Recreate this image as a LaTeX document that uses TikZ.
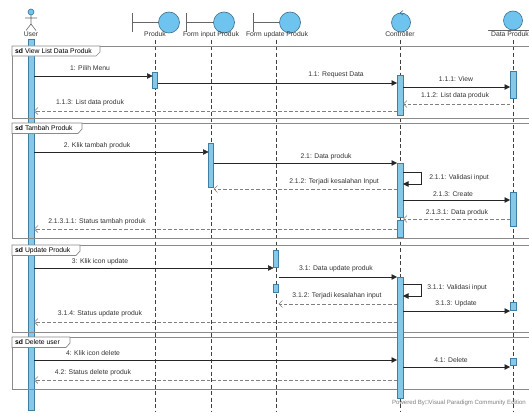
\documentclass[tikz,border=0pt]{standalone}
\usepackage{fontspec}
\setmainfont{Liberation Sans}
\usetikzlibrary{arrows.meta}
\definecolor{actfill}{HTML}{86C8E8}
\definecolor{actdraw}{HTML}{3F7FA6}
\definecolor{circfill}{HTML}{6EC4EE}
\definecolor{circdraw}{HTML}{3E6F8E}
\definecolor{framec}{HTML}{8A8A8A}
\definecolor{txt}{HTML}{333333}
\newcommand{\lbf}{\fontsize{6.8}{8}\selectfont}
\newcommand{\ftf}{\fontsize{6.1}{7}\selectfont}
\begin{document}
\begin{tikzpicture}[x=1pt,y=-1pt,
  lbl/.style={font=\lbf, text=txt, inner sep=0pt},
  tabl/.style={font=\lbf, text=black, inner sep=0pt, anchor=west},
  msg/.style={draw=black!85, line width=0.55pt, -{Triangle[length=5.5pt,width=5.5pt]}},
  ret/.style={draw=black!50, line width=0.55pt, dash pattern=on 3.5pt off 2pt, -{Straight Barb[length=3.5pt,width=7pt]}},
  lifeline/.style={draw=black!75, line width=0.5pt, dash pattern=on 4pt off 2.5pt},
  act/.style={draw=actdraw, fill=actfill, line width=0.5pt},
  frm/.style={draw=framec, line width=0.7pt},
  tabshape/.style={draw=framec, fill=white, line width=0.7pt},
  icon/.style={draw=circdraw, fill=circfill, line width=0.6pt},
  iconline/.style={draw=black!60, line width=0.6pt}
]
\useasboundingbox (0,0) rectangle (529,412);
\clip (0,0) rectangle (529,412);
\fill[white] (0,0) rectangle (529,412);

% ---------- header icons ----------
% actor
\draw[icon] (31,12) circle (3);
\draw[iconline] (31,15) -- (31,24) (25,18) -- (37,18) (31,24) -- (26,30.5) (31,24) -- (36,30.5);
\node[lbl] (hUser) at (31,34.5) {User};
% boundaries
\draw[iconline] (132,13) -- (132,32) (132,22.5) -- (158.5,22.5);
\draw[icon] (169,22.5) circle (10.5);
\node[lbl] (hProduk) at (155,34.5) {Produk};
\draw[iconline] (186,13) -- (186,32) (186,22.5) -- (213.5,22.5);
\draw[icon] (224,22.5) circle (10.5);
\node[lbl] (hFin) at (211,34.5) {Form input Produk};
\draw[iconline] (253,13) -- (253,32) (253,22.5) -- (279.5,22.5);
\draw[icon] (290,22.5) circle (10.5);
\node[lbl] (hFup) at (277,34.5) {Form update Produk};
% control
\draw[icon] (401,22.5) circle (9.5);
\draw[iconline, draw=circdraw] (403,10.5) -- (400,13) -- (403,15);
\node[lbl] (hCtrl) at (400,34.5) {Controller};
% entity
\draw[icon] (513,20.5) circle (9.5);
\draw[iconline] (488,30) -- (545,30);
\node[lbl] (hData) at (510,34.5) {Data Produk};

% ---------- lifelines ----------
\foreach \x in {155,211,276,400,513} \draw[lifeline] (\x,40) -- (\x,412);

% ---------- user activation (behind frames) ----------
\path[act] (28,39) rectangle (34,410);

% ---------- frames ----------
\draw[frm] (12,46) rectangle (545,118);
\draw[tabshape] (12,46) -- (100,46) -- (100,52) -- (96,56) -- (12,56) -- cycle;
\node[tabl] (f1) at (15,51.2) {\textbf{sd} View List Data Produk};

\draw[frm] (12,123) rectangle (545,238);
\draw[tabshape] (12,123) -- (82,123) -- (82,129) -- (78,133.5) -- (12,133.5) -- cycle;
\node[tabl] (f2) at (15,128.5) {\textbf{sd} Tambah Produk};

\draw[frm] (12,245) rectangle (545,332);
\draw[tabshape] (12,245) -- (80,245) -- (80,251) -- (76,255.5) -- (12,255.5) -- cycle;
\node[tabl] (f3) at (15,250.5) {\textbf{sd} Update Produk};

\draw[frm] (12,337) rectangle (545,389);
\draw[tabshape] (12,337) -- (70,337) -- (70,343) -- (66,347.5) -- (12,347.5) -- cycle;
\node[tabl] (f4) at (15,342.5) {\textbf{sd} Delete user};

% ---------- activation bars ----------
\path[act] (152.5,72) rectangle (157.5,88);
\path[act] (397,75) rectangle (403,115);
\path[act] (510,71) rectangle (516,98);
\path[act] (208.5,143) rectangle (213.5,187);
\path[act] (397,163) rectangle (403,217);
\path[act] (397,220) rectangle (403,237);
\path[act] (510,192) rectangle (516,226);
\path[act] (273.5,250) rectangle (278.5,267);
\path[act] (273.5,284) rectangle (278.5,292);
\path[act] (397,277) rectangle (403,398);
\path[act] (510,302) rectangle (516,310);
\path[act] (510,358) rectangle (516,365);

% ---------- messages ----------
% frame 1
\coordinate (a1) at (34,76);     \coordinate (b1) at (152.5,76);
\draw[msg] (a1) -- (b1);  \node[lbl] (l1) at (90,68) {1: Pilih Menu};
\coordinate (a2) at (157.5,83);  \coordinate (b2) at (397,83);
\draw[msg] (a2) -- (b2);  \node[lbl] (l2) at (336,75) {1.1: Request Data};
\coordinate (a3) at (403,87);    \coordinate (b3) at (510,87);
\draw[msg] (a3) -- (b3);  \node[lbl] (l3) at (456,79) {1.1.1: View};
\coordinate (a4) at (510,104);   \coordinate (b4) at (403,104);
\draw[ret] (a4) -- (b4);  \node[lbl] (l4) at (455,96) {1.1.2: List data produk};
\coordinate (a5) at (397,111);   \coordinate (b5) at (34,111);
\draw[ret] (a5) -- (b5);  \node[lbl] (l5) at (90,103) {1.1.3: List data produk};

% frame 2
\coordinate (a6) at (34,152);    \coordinate (b6) at (208.5,152);
\draw[msg] (a6) -- (b6);  \node[lbl] (l6) at (97,146) {2. Klik tambah produk};
\coordinate (a7) at (213.5,163); \coordinate (b7) at (397,163);
\draw[msg] (a7) -- (b7);  \node[lbl] (l7) at (326,157) {2.1: Data produk};
\coordinate (a8) at (403,172);   \coordinate (b8) at (403,184);
\draw[msg] (a8) -- (421,172) -- (421,184) -- (b8);
\node[lbl] (l8) at (459,178) {2.1.1: Validasi input};
\coordinate (a9) at (397,189);   \coordinate (b9) at (213.5,189);
\draw[ret] (a9) -- (b9);  \node[lbl] (l9) at (334,182) {2.1.2: Terjadi kesalahan Input};
\coordinate (a10) at (403,200);  \coordinate (b10) at (510,200);
\draw[msg] (a10) -- (b10); \node[lbl] (l10) at (453,194) {2.1.3: Create};
\coordinate (a11) at (510,219);  \coordinate (b11) at (403,219);
\draw[ret] (a11) -- (b11); \node[lbl] (l11) at (457,213) {2.1.3.1: Data produk};
\coordinate (a12) at (397,229);  \coordinate (b12) at (34,229);
\draw[ret] (a12) -- (b12); \node[lbl] (l12) at (97,222) {2.1.3.1.1: Status tambah produk};

% frame 3
\coordinate (a13) at (34,268);   \coordinate (b13) at (273.5,268);
\draw[msg] (a13) -- (b13); \node[lbl] (l13) at (100,262) {3: Klik icon update};
\coordinate (a14) at (278.5,277); \coordinate (b14) at (397,277);
\draw[msg] (a14) -- (b14); \node[lbl] (l14) at (336,269) {3.1: Data update produk};
\coordinate (a15) at (403,284);  \coordinate (b15) at (403,296);
\draw[msg] (a15) -- (421,284) -- (421,296) -- (b15);
\node[lbl] (l15) at (457,288) {3.1.1: Validasi input};
\coordinate (a16) at (397,304);  \coordinate (b16) at (278.5,304);
\draw[ret] (a16) -- (b16); \node[lbl] (l16) at (337,296) {3.1.2: Terjadi kesalahan input};
\coordinate (a17) at (403,311);  \coordinate (b17) at (510,311);
\draw[msg] (a17) -- (b17); \node[lbl] (l17) at (456,304) {3.1.3: Update};
\coordinate (a18) at (397,322);  \coordinate (b18) at (34,322);
\draw[ret] (a18) -- (b18); \node[lbl] (l18) at (100,314) {3.1.4: Status update produk};

% frame 4
\coordinate (a19) at (34,360);   \coordinate (b19) at (397,360);
\draw[msg] (a19) -- (b19); \node[lbl] (l19) at (93,353) {4: Klik icon delete};
\coordinate (a20) at (403,367);  \coordinate (b20) at (510,367);
\draw[msg] (a20) -- (b20); \node[lbl] (l20) at (451,360) {4.1: Delete};
\coordinate (a21) at (397,380);  \coordinate (b21) at (34,380);
\draw[ret] (a21) -- (b21); \node[lbl] (l21) at (93,373) {4.2: Status delete produk};

% footer
\node[font=\ftf, text=black!50, inner sep=0pt] (foot) at (459,403) {Powered By□Visual Paradigm Community Edition};
\end{tikzpicture}
\end{document}
